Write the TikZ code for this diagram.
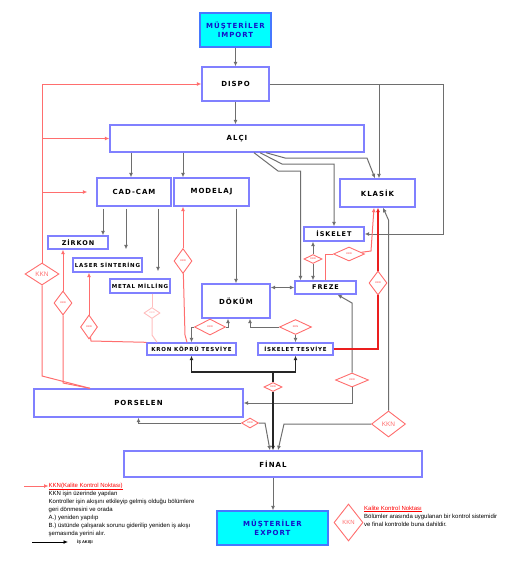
\documentclass[tikz,border=0pt]{standalone}
\usepackage{fontspec}
\usepackage{tikz}
\usetikzlibrary{shapes.geometric,arrows.meta}
\newfontfamily\boxfont{DejaVu Sans}[LetterSpace=14]
\newfontfamily\notefont{Liberation Sans}
\definecolor{boxblue}{RGB}{128,128,255}
\definecolor{cyanfill}{RGB}{0,255,255}
\definecolor{cyanline}{RGB}{70,120,255}
\definecolor{textblue}{RGB}{20,20,200}
\definecolor{kknred}{RGB}{255,110,110}
\definecolor{kknfaint}{RGB}{255,190,190}
\definecolor{thickred}{RGB}{235,30,30}
\definecolor{flowgray}{RGB}{110,110,110}

\begin{document}
\begin{tikzpicture}[x=1pt, y=-1pt, >={Latex[length=4.5pt,width=4pt]},
	box/.style={draw=boxblue, line width=1.4pt, fill=white, inner sep=0pt, font=\boxfont\bfseries\fontsize{7}{8}\selectfont},
	mbox/.style={box, font=\boxfont\bfseries\fontsize{6.5}{7}\selectfont},
	sbox/.style={box, font=\boxfont\bfseries\fontsize{5.5}{6}\selectfont},
	cbox/.style={box, fill=cyanfill, draw=cyanline, text=textblue, align=center, font=\boxfont\bfseries\fontsize{7}{9}\selectfont},
	kd/.style={diamond, draw=kknred, line width=0.9pt, fill=white, inner sep=0pt, text=kknred, font=\notefont\bfseries\fontsize{2.5}{3}\selectfont},
	kbig/.style={kd, font=\notefont\fontsize{6.5}{7}\selectfont},
	flow/.style={draw=flowgray, line width=1pt},
	blk/.style={draw=black!85, line width=1.3pt},
	kkn/.style={draw=kknred, line width=1pt},
	kkr/.style={draw=thickred, line width=1.8pt},
	note/.style={inner sep=0pt, align=left, font=\notefont\fontsize{6}{8}\selectfont},
	]
    \useasboundingbox (0,0) rectangle (520,562);

    \node[cbox, minimum width=71, minimum height=34] (import) at (235.5,30) {MÜŞTERİLER\\IMPORT};
    \node[box, minimum width=67, minimum height=34] (dispo) at (235.5,84) {DISPO};
    \node[box, minimum width=254, minimum height=27] (alci) at (237,138.5) {ALÇI};
    \node[box, minimum width=74, minimum height=28] (cadcam) at (134,192) {CAD-CAM};
    \node[box, minimum width=75, minimum height=28] (modelaj) at (211.5,192) {MODELAJ};
    \node[box, minimum width=75, minimum height=28] (klasik) at (377.5,193) {KLASİK};
    \node[mbox, minimum width=60, minimum height=13] (zirkon) at (78,242.5) {ZİRKON};
    \node[sbox, minimum width=69, minimum height=14] (laser) at (107.5,265) {LASER SİNTERİNG};
    \node[sbox, minimum width=60, minimum height=14] (metal) at (140,286) {METAL MİLLİNG};
    \node[mbox, minimum width=60, minimum height=14] (iskelet) at (334,234) {İSKELET};
    \node[box, minimum width=68, minimum height=34] (dokum) at (236,301) {DÖKÜM};
    \node[mbox, minimum width=61, minimum height=13] (freze) at (325.5,287.5) {FREZE};
    \node[sbox, minimum width=89, minimum height=12] (kron) at (191.5,349) {KRON KÖPRÜ TESVİYE};
    \node[sbox, minimum width=75, minimum height=12] (iskt) at (295.5,349) {İSKELET TESVİYE};
    \node[box, minimum width=209, minimum height=28] (porselen) at (138.5,403) {PORSELEN};
    \node[box, minimum width=298, minimum height=26] (final) at (273,464) {FİNAL};
    \node[cbox, minimum width=111, minimum height=34] (export) at (272.5,528) {MÜŞTERİLER\\EXPORT};

    \node[kbig, minimum width=34, minimum height=22] (kA) at (42,274) {KKN};
    \node[kd, minimum width=18, minimum height=24] (kB) at (63,303) {KKN};
    \node[kd, minimum width=17, minimum height=24] (kC) at (89,327) {KKN};
    \node[kd, draw=kknfaint, text=kknfaint, minimum width=16, minimum height=11] (kD) at (152,313) {KKN};
    \node[kd, minimum width=18, minimum height=25] (kE) at (183,261) {KKN};
    \node[kd, minimum width=18, minimum height=24] (kF) at (378,283) {KKN};
    \node[kd, minimum width=31, minimum height=14] (kG) at (349,254) {KKN};
    \node[kd, minimum width=18, minimum height=9] (kH) at (313,259) {KKN};
    \node[kd, minimum width=31, minimum height=16] (kI) at (210,327) {KKN};
    \node[kd, minimum width=32, minimum height=15] (kJ) at (295.5,327) {KKN};
    \node[kd, minimum width=33, minimum height=14] (kK) at (352,380) {KKN};
    \node[kd, minimum width=18, minimum height=9] (kL) at (273,387) {KKN};
    \node[kd, minimum width=17, minimum height=10] (kM) at (250,423) {KKN};
    \node[kbig, minimum width=34, minimum height=26] (kN) at (388.5,424) {KKN};

    \draw[flow,->] (import) -- (dispo);
    \draw[flow,->] (dispo) -- (dispo |- alci.north);
    \draw[flow,->] (dispo.east) -- (443,84) |- (iskelet.east);
    \draw[flow,->] ([xshift=1.5]klasik.north |- dispo.east) -- ([xshift=1.5]klasik.north);
    \draw[flow,->] ([xshift=29]alci.south) -- (285,158) -- (367,158) -- ([xshift=-2.5]klasik.north);
    \draw[flow,->] ([xshift=23]alci.south) -- (282,164) -| (iskelet.north);
    \draw[flow,->] ([xshift=17]alci.south) -- (278,171) -| ([xshift=-25]freze.north);
    \draw[flow,->] ([xshift=-3]cadcam.north |- alci.south) -- ([xshift=-3]cadcam.north);
    \draw[flow,->] ([xshift=-28.5]modelaj.north |- alci.south) -- ([xshift=-28.5]modelaj.north);
    \draw[flow,->,shorten <=2pt] ([xshift=-31]cadcam.south) -- ([xshift=-31]cadcam.south |- zirkon.north);
    \draw[flow,->,shorten <=2pt,shorten >=8pt] ([xshift=-8]cadcam.south) -- ([xshift=-8]cadcam.south |- laser.north);
    \draw[flow,->,shorten <=2pt,shorten >=7pt] ([xshift=24]cadcam.south) -- ([xshift=24]cadcam.south |- metal.north);
    \draw[flow,->,shorten <=2pt] (modelaj.south -| dokum.north) -- (dokum.north);
    \draw[flow,<->] (dokum.east |- freze.west) -- (freze.west);
    \draw[flow,<-] ([xshift=-21]iskelet.south) -- (kH);
    \draw[flow,->] (kH) -- ([xshift=-21]iskelet.south |- freze.north);
    \draw[flow,<-] ([xshift=12]freze.south) -- (352,303) -- (kK);
    \draw[flow,->] (kK) |- (porselen.east);
    \draw[flow,<-] ([xshift=-8]dokum.south) |- (kI);
    \draw[flow,->] (kI) -| (kron.north);
    \draw[flow,<-] ([xshift=14]dokum.south) |- (kJ);
    \draw[flow,->] (kJ) -- (kJ |- iskt.north);
    \coordinate (j1) at (273,372);
    \draw[blk,<-] (kron.south) |- (j1);
    \draw[blk,<-] (iskt.south) |- (j1);
    \draw[blk] (j1) -- (kL);
    \draw[blk,->] (kL) -- (kL |- final.north);
    \draw[flow,<-] (porselen.south) |- (kM);
    \draw[flow,->] (kM) -- (265,423) -- ([xshift=-3]final.north);
    \draw[flow,<-] ([xshift=5.5]klasik.south) -- (388.5,220) -- (kN);
    \draw[flow,->] (kN) -- (284,424) -- ([xshift=5]final.north);
    \draw[flow,->] (final) -- (final |- export.north);

    \draw[kkn] ([xshift=-48.5]porselen.north) -- (42,376) -- (kA);
    \draw[kkn,->] (kA) |- (dispo.west);
    \draw[kkn,->] (kA.north |- alci.west) -- (alci.west);
    \draw[kkn,->] (kA.north |- cadcam.west) -- ([xshift=-9]cadcam.west);
    \draw[kkn,<-] ([xshift=-15]zirkon.south) -- (kB);
    \draw[kkn] (kB) -- (63,383) -- ([xshift=-48.5]porselen.north);
    \draw[kkn,<-] ([xshift=-18.5]laser.south) -- (kC);
    \draw[kkn] (kC) -- (91,341) -- (kron.north west);
    \draw[kkn,draw=kknfaint] ([xshift=12]metal.south) -- (kD);
    \draw[kkn,draw=kknfaint] (kD) -- (152,335) -- ([xshift=-34.5]kron.north);
    \draw[kkn,<-] ([xshift=-28.5]modelaj.south) -- (kE);
    \draw[kkn] (kE) -- (185,335) -- ([xshift=-4.5]kron.north);
    \draw[kkr] (iskt.east) -| (kF);
    \draw[kkr,->] (kF) -- ([xshift=0.5]klasik.south);
    \draw[kkn] (freze.north) |- (kG);
    \draw[kkn,->] (kG) -- (371,251) -- ([xshift=-3.5]klasik.south);

    \node[note, anchor=north west] (leg1) at (48.5,482.5) {\textcolor{red}{\underline{KKN(Kalite Kontrol Noktası)}}\\KKN işin üzerinde yapılan\\Kontroller işin akışını etkileyip gelmiş olduğu bölümlere\\geri dönmesini ve orada\\A.) yeniden yapılıp\\B.) üstünde çalışarak sorunu giderilip yeniden iş akışı\\şemasında yerini alır.};
    \coordinate (la) at (24,486);
    \draw[kkn,->] (la) -- (la -| leg1.west);
    \node[note, anchor=west, font=\notefont\bfseries\fontsize{4}{5}\selectfont] (leg2) at (77,542) {İŞ AKIŞI};
    \coordinate (lb) at (32,542);
    \draw[black, line width=0.9pt, ->] (lb) -- ([xshift=-9]leg2.west);
    \node[kbig, font=\notefont\fontsize{6}{7}\selectfont, minimum width=29, minimum height=37] (kO) at (348.5,522.5) {KKN};
    \node[note, anchor=north west] (leg3) at (364,505.5) {\textcolor{red}{\underline{Kalite Kontrol Noktası}}\\Bölümler arasında uygulanan bir kontrol sistemidir\\ve final kontrolde buna dahildir.};
\end{tikzpicture}
\end{document}
